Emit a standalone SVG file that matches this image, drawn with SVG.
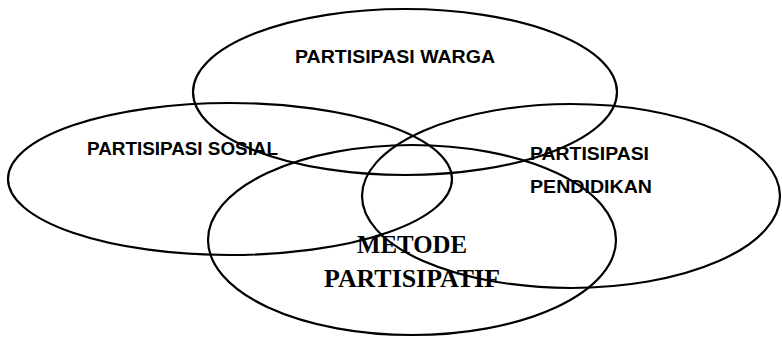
<svg xmlns="http://www.w3.org/2000/svg" width="782" height="338" viewBox="0 0 782 338">
<style>
.e{fill:none;stroke:#000;stroke-width:2.2}
.s{font-family:"Liberation Sans",Arial,sans-serif;font-weight:bold;font-size:18px;fill:#000}
.m{font-family:"Liberation Serif","Times New Roman",serif;font-weight:bold;font-size:26px;fill:#000}
</style>
<rect width="782" height="338" fill="#fff"/>
<g id="connectors"></g>
<g id="warga"><ellipse class="e" cx="405" cy="92" rx="212" ry="83"/><text class="s" x="295" y="63" textLength="200" lengthAdjust="spacingAndGlyphs">PARTISIPASI WARGA</text></g>
<g id="sosial"><ellipse class="e" cx="230" cy="179" rx="222" ry="76"/><text class="s" x="87" y="155" textLength="191" lengthAdjust="spacingAndGlyphs">PARTISIPASI SOSIAL</text></g>
<g id="pendidikan"><ellipse class="e" cx="571" cy="196" rx="209" ry="92"/><text class="s" x="530" y="160" textLength="119" lengthAdjust="spacingAndGlyphs">PARTISIPASI</text><text class="s" x="530" y="193" textLength="122" lengthAdjust="spacingAndGlyphs">PENDIDIKAN</text></g>
<g id="metode"><ellipse class="e" cx="412" cy="240" rx="204" ry="95"/><text class="m" x="357" y="253" textLength="110" lengthAdjust="spacingAndGlyphs">METODE</text><text class="m" x="324" y="287" textLength="176" lengthAdjust="spacingAndGlyphs">PARTISIPATIF</text></g>
</svg>
